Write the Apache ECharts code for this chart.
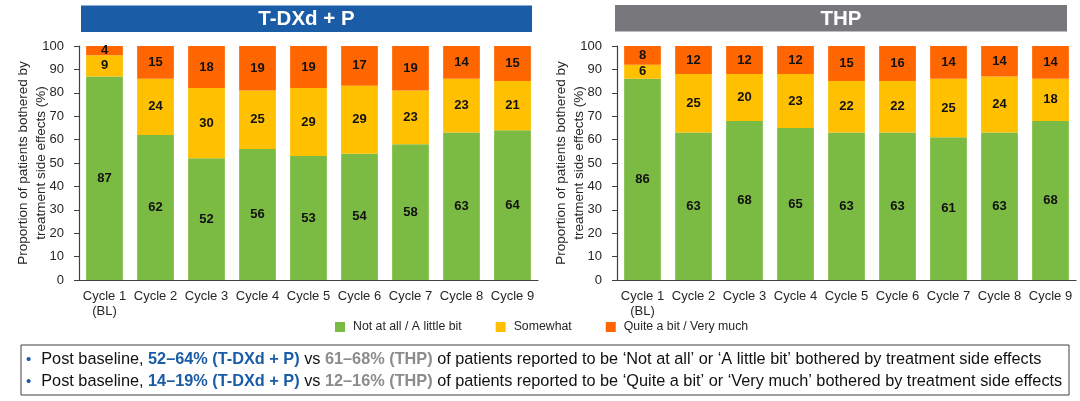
<!DOCTYPE html>
<html>
<head>
<meta charset="utf-8">
<script src="https://cdn.jsdelivr.net/npm/echarts@6/dist/echarts.min.js"></script>
<style>
html,body{margin:0;padding:0;background:#fff;}
#c{width:1080px;height:401px;}
</style>
</head>
<body>
<div id="c"></div>
<script>
var categories = ['Cycle 1\n(BL)','Cycle 2','Cycle 3','Cycle 4','Cycle 5','Cycle 6','Cycle 7','Cycle 8','Cycle 9'];
var seriesNames = ['Not at all / A little bit','Somewhat','Quite a bit / Very much'];
var tdxdNotAtAll = [87,62,52,56,53,54,58,63,64];
var tdxdSomewhat = [9,24,30,25,29,29,23,23,21];
var tdxdQuiteABit = [4,15,18,19,19,17,19,14,15];
var thpNotAtAll = [86,63,68,65,63,63,61,63,68];
var thpSomewhat = [6,25,20,23,22,22,25,24,18];
var thpQuiteABit = [8,12,12,12,15,16,14,14,14];
var yTicks = [0,10,20,30,40,50,60,70,80,90,100];
var panelTitles = ['T-DXd + P','THP'];

var colors = ['#7cbb43','#ffc000','#ff6600'];
var FONT = 'Liberation Sans, Arial, sans-serif';
var chart = echarts.init(document.getElementById('c'), null, {renderer:'canvas'});

function xAxis(idx){
  return {
    type:'category', gridIndex:idx, data:categories,
    axisLine:{lineStyle:{color:'#404040', width:1.2}},
    axisTick:{show:false},
    axisLabel:{color:'#262626', fontSize:13, fontFamily:FONT, margin:9, lineHeight:15, interval:0}
  };
}
function yAxis(idx){
  return {
    type:'value', gridIndex:idx, min:yTicks[0], max:yTicks[yTicks.length-1], interval:10,
    name:'Proportion of patients bothered by\ntreatment side effects (%)',
    nameLocation:'middle', nameRotate:90, nameGap:29, nameMoveOverlap:false,
    nameTextStyle:{color:'#262626', fontSize:13.5, fontFamily:FONT, lineHeight:18},
    axisLine:{show:true, lineStyle:{color:'#404040', width:1.2}},
    axisTick:{show:true, length:5, lineStyle:{color:'#404040'}},
    axisLabel:{color:'#262626', fontSize:13, fontFamily:FONT, margin:15},
    splitLine:{show:false}
  };
}
function bar(name, data, idx, colorIdx){
  return {
    name:name, type:'bar', stack:'s'+idx, xAxisIndex:idx, yAxisIndex:idx,
    data:data, barWidth:'72%',
    itemStyle:{color:colors[colorIdx]},
    label:{show:true, position:'inside', color:'#111', fontWeight:'bold', fontSize:13, fontFamily:FONT},
    emphasis:{disabled:true}
  };
}

var richStyles = {
  d:{fill:'#1a5ca6', font:'15px '+FONT, padding:[0,10,0,0]},
  a:{fill:'#111', font:'16.3px '+FONT},
  b:{fill:'#1a5ca6', font:'bold 16.3px '+FONT},
  g:{fill:'#8c8c8c', font:'bold 16.3px '+FONT}
};

var option = {
  animation:false,
  legend:{
    data:seriesNames, left:335, top:321, itemWidth:10, itemHeight:10, itemGap:34,
    icon:'rect', padding:0,
    textStyle:{color:'#262626', fontSize:12.3, fontFamily:FONT, padding:[0,0,0,3]}
  },
  grid:[
    {left:79, right:542, top:46, bottom:121, containLabel:false},
    {left:617, right:4, top:46, bottom:121, containLabel:false}
  ],
  xAxis:[xAxis(0), xAxis(1)],
  yAxis:[yAxis(0), yAxis(1)],
  series:[
    bar(seriesNames[0], tdxdNotAtAll, 0, 0),
    bar(seriesNames[1], tdxdSomewhat, 0, 1),
    bar(seriesNames[2], tdxdQuiteABit, 0, 2),
    bar(seriesNames[0], thpNotAtAll, 1, 0),
    bar(seriesNames[1], thpSomewhat, 1, 1),
    bar(seriesNames[2], thpQuiteABit, 1, 2)
  ],
  graphic:[
    {type:'rect', shape:{x:81, y:5.5, width:451, height:26.5}, style:{fill:'#1a5ca6'}, silent:true},
    {type:'text', x:306.5, y:19, style:{text:panelTitles[0], fill:'#fff', font:'bold 20.5px '+FONT, align:'center', verticalAlign:'middle'}},
    {type:'rect', shape:{x:615, y:5, width:452, height:26.5}, style:{fill:'#78777c'}, silent:true},
    {type:'text', x:841, y:19, style:{text:panelTitles[1], fill:'#fff', font:'bold 20.5px '+FONT, align:'center', verticalAlign:'middle'}},
    {type:'rect', shape:{x:21, y:345, width:1048, height:50}, style:{fill:'#fff', stroke:'#404040', lineWidth:1}},
    {type:'text', x:26, y:360, style:{
      text:'{d|•}{a|Post baseline, }{b|52–64% (T-DXd + P)}{a| vs }{g|61–68% (THP)}{a| of patients reported to be ‘Not at all’ or ‘A little bit’ bothered by treatment side effects}',
      verticalAlign:'middle', rich:richStyles}},
    {type:'text', x:26, y:382, style:{
      text:'{d|•}{a|Post baseline, }{b|14–19% (T-DXd + P)}{a| vs }{g|12–16% (THP)}{a| of patients reported to be ‘Quite a bit’ or ‘Very much’ bothered by treatment side effects}',
      verticalAlign:'middle', rich:richStyles}}
  ]
};
chart.setOption(option);
</script>
</body>
</html>
